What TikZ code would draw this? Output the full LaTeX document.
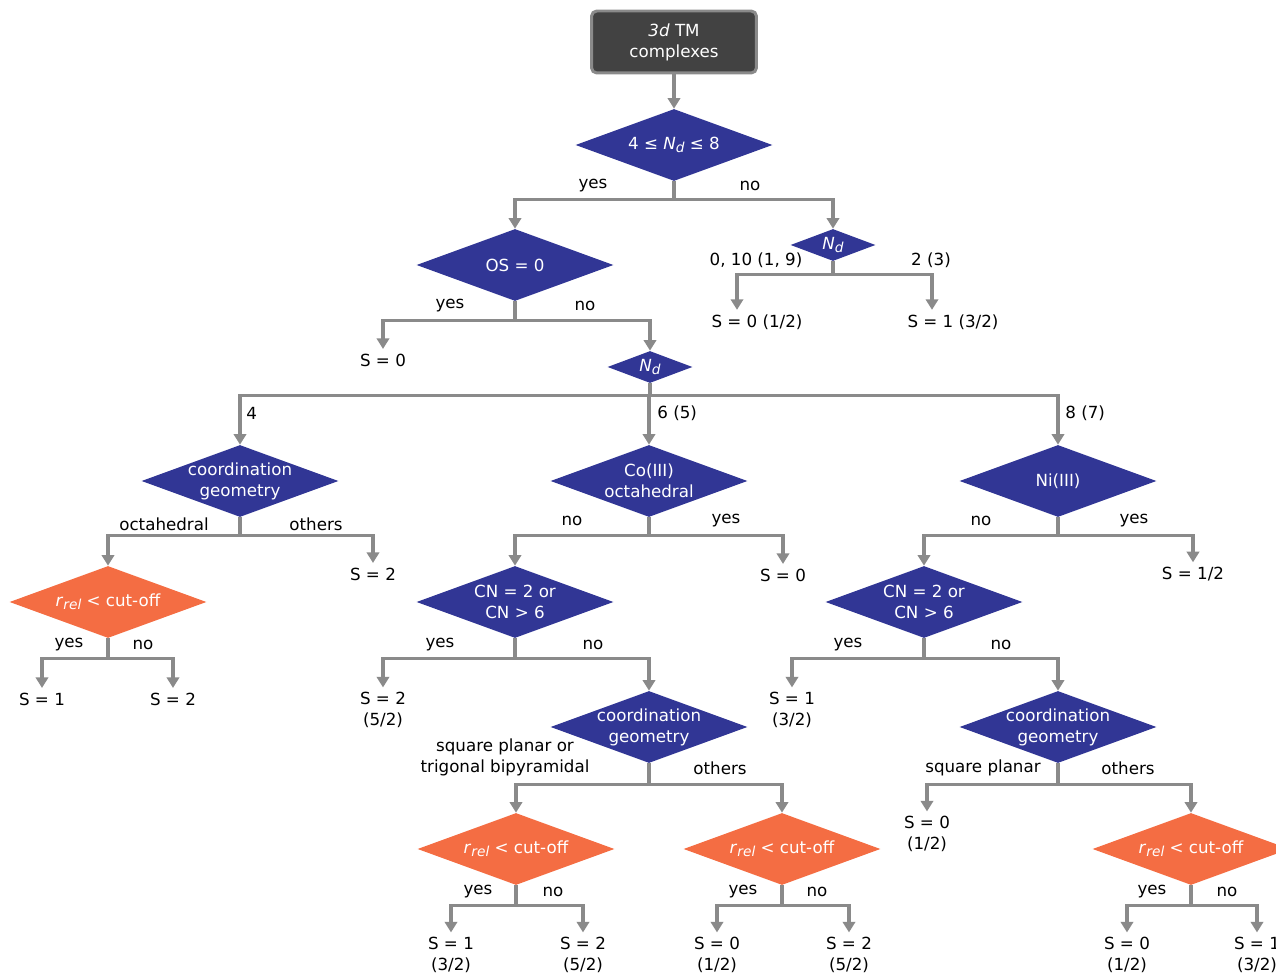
\documentclass[tikz,border=0pt]{standalone}
\usepackage{fontspec}
\setmainfont{DejaVu Sans}
\usetikzlibrary{arrows.meta, shapes.geometric}

\definecolor{tmblue}{HTML}{313695}
\definecolor{tmorange}{HTML}{F46D43}
\definecolor{tmgray}{HTML}{8A8A8A}
\definecolor{tmdark}{HTML}{424242}

\newcommand{\lowsub}[1]{\raisebox{-0.3ex}{\fontsize{7.8}{8}\selectfont\itshape #1}}
\newcommand{\Nd}{\textit{N}\lowsub{d}}
\newcommand{\rrel}{\textit{r}\lowsub{rel}}

\begin{document}
\begin{tikzpicture}[
        x = 0.02cm, y = -0.02cm,
        >= {Triangle[width = 7pt, length = 6pt]},
        every node/.style = {font = \fontsize{9.5}{12}\selectfont},
        test/.style = {diamond, fill = tmblue, text = white, align = center, aspect = 2.7,
            minimum width = 3.94cm, minimum height = 1.44cm, inner sep = -4pt},
        cutoff/.style = {test, fill = tmorange},
        ndtest/.style = {test, minimum width = 1.7cm, minimum height = 0.64cm},
        leaf/.style = {align = center, inner sep = 2.5pt},
        lbl/.style = {align = center, inner sep = 0pt},
        fork/.style = {to path = {-- ++(0,#1) -| (\tikztotarget)}},
        every edge/.style = {draw = tmgray, line width = 2pt}
    ]
    \useasboundingbox (0,0) rectangle (1276,976);
    \clip (0,0) rectangle (1276,976);

    % start and first tests
    \node[draw = tmgray, line width = 1.7pt, fill = tmdark, rounded corners = 3pt, text = white,
        align = center, minimum width = 3.3cm, minimum height = 1.24cm] (tm) at (674,42) {\textit{3d} TM\\complexes};
    \node[test] (d1) at (674,145) {4 ≤ \Nd{} ≤ 8};
    \node[ndtest] (ndhi) at (833,245) {\Nd};
    \node[test] (os) at (515,265) {OS = 0};
    \node[ndtest] (ndlo) at (650,367) {\Nd};

    % third level
    \node[test] (geoA) at (240,481) {coordination\\geometry};
    \node[test] (co) at (649,481) {Co(III)\\octahedral};
    \node[test] (ni) at (1058,481) {Ni(III)};
    \node[cutoff] (cutA) at (108,602) {\rrel{} < cut-off};
    \node[test] (cnB) at (515,602) {CN = 2 or\\CN > 6};
    \node[test] (cnC) at (924,602) {CN = 2 or\\CN > 6};
    \node[test] (geoB) at (649,727) {coordination\\geometry};
    \node[test] (geoC) at (1058,727) {coordination\\geometry};
    \node[cutoff] (cutB) at (516,849) {\rrel{} < cut-off};
    \node[cutoff] (cutC) at (782,849) {\rrel{} < cut-off};
    \node[cutoff] (cutD) at (1191,849) {\rrel{} < cut-off};

    % spin states
    \node[leaf] (lhi0) at (757,322) {S = 0 (1/2)};
    \node[leaf] (lhi1) at (953,322) {S = 1 (3/2)};
    \node[leaf] (los) at (383,360) {S = 0};
    \node[leaf] (lA2) at (373,574) {S = 2};
    \node[leaf] (lA1) at (42,699) {S = 1};
    \node[leaf] (lA2b) at (173,699) {S = 2};
    \node[leaf] (lco) at (783,575) {S = 0};
    \node[leaf] (lB2) at (383,710) {S = 2\\(5/2)};
    \node[leaf] (lB1) at (451,955) {S = 1\\(3/2)};
    \node[leaf] (lB2b) at (583,955) {S = 2\\(5/2)};
    \node[leaf] (lB0) at (717,955) {S = 0\\(1/2)};
    \node[leaf] (lB2c) at (849,955) {S = 2\\(5/2)};
    \node[leaf] (lni) at (1193,574) {S = 1/2};
    \node[leaf] (lC1) at (792,710) {S = 1\\(3/2)};
    \node[leaf] (lC0) at (927,834) {S = 0\\(1/2)};
    \node[leaf] (lD0) at (1127,955) {S = 0\\(1/2)};
    \node[leaf] (lD1) at (1257,955) {S = 1\\(3/2)};

    % branch labels
    \node[lbl] (yes1) at (593,186) {yes};
    \node[lbl] (no1) at (750,186) {no};
    \node[lbl] (ndhiL) at (756,260) {0, 10 (1, 9)};
    \node[lbl] (ndhiR) at (931,260) {2 (3)};
    \node[lbl] (yes2) at (450,306) {yes};
    \node[lbl] (no2) at (585,306) {no};
    \node[lbl, anchor = west] (n4) at (246,413) {4};
    \node[lbl, anchor = west] (n6) at (657,413) {6 (5)};
    \node[lbl, anchor = west] (n8) at (1065,413) {8 (7)};
    \node[lbl] (oct) at (164,524) {octahedral};
    \node[lbl] (othA) at (316,524) {others};
    \node[lbl] (yesA) at (69,645) {yes};
    \node[lbl] (noA) at (143,645) {no};
    \node[lbl] (noCo) at (572,521) {no};
    \node[lbl] (yesCo) at (726,521) {yes};
    \node[lbl] (yesB) at (440,645) {yes};
    \node[lbl] (noB) at (593,645) {no};
    \node[lbl] (sqtb) at (505,757) {square planar or\\trigonal bipyramidal};
    \node[lbl] (othB) at (720,768) {others};
    \node[lbl] (yesB2) at (478,892) {yes};
    \node[lbl] (noB2) at (553,892) {no};
    \node[lbl] (yesB3) at (743,892) {yes};
    \node[lbl] (noB3) at (817,892) {no};
    \node[lbl] (noNi) at (981,521) {no};
    \node[lbl] (yesNi) at (1134,521) {yes};
    \node[lbl] (yesC) at (848,645) {yes};
    \node[lbl] (noC) at (1001,645) {no};
    \node[lbl] (sqC) at (983,768) {square planar};
    \node[lbl] (othC) at (1128,768) {others};
    \node[lbl] (yesD) at (1152,892) {yes};
    \node[lbl] (noD) at (1227,892) {no};

    \path[->]
        (tm.south) edge (d1.north)
        (d1.south) edge[fork = 18] (os.north) edge[fork = 18] (ndhi.north)
        (ndhi.south) edge[fork = 13] ([xshift = -0.4cm]lhi0.north) edge[fork = 13] ([xshift = -0.42cm]lhi1.north)
        (os.south) edge[fork = 19] (los.north) edge[fork = 19] (ndlo.north)
        (ndlo.south) edge[fork = 12] (geoA.north) edge[fork = 12] (co.north) edge[fork = 12] (ni.north)
        (geoA.south) edge[fork = 18] (cutA.north) edge[fork = 18] (lA2.north)
        (cutA.south) edge[fork = 20] (lA1.north) edge[fork = 20] (lA2b.north)
        (co.south) edge[fork = 18] (cnB.north) edge[fork = 18] (lco.north)
        (cnB.south) edge[fork = 20] (lB2.north) edge[fork = 20] (geoB.north)
        (geoB.south) edge[fork = 21] (cutB.north) edge[fork = 21] (cutC.north)
        (cutB.south) edge[fork = 20] (lB1.north) edge[fork = 20] (lB2b.north)
        (cutC.south) edge[fork = 20] (lB0.north) edge[fork = 20] (lB2c.north)
        (ni.south) edge[fork = 18] (cnC.north) edge[fork = 18] (lni.north)
        (cnC.south) edge[fork = 20] (lC1.north) edge[fork = 20] (geoC.north)
        (geoC.south) edge[fork = 21] (lC0.north) edge[fork = 21] (cutD.north)
        (cutD.south) edge[fork = 20] (lD0.north) edge[fork = 20] (lD1.north);
\end{tikzpicture}
\end{document}
